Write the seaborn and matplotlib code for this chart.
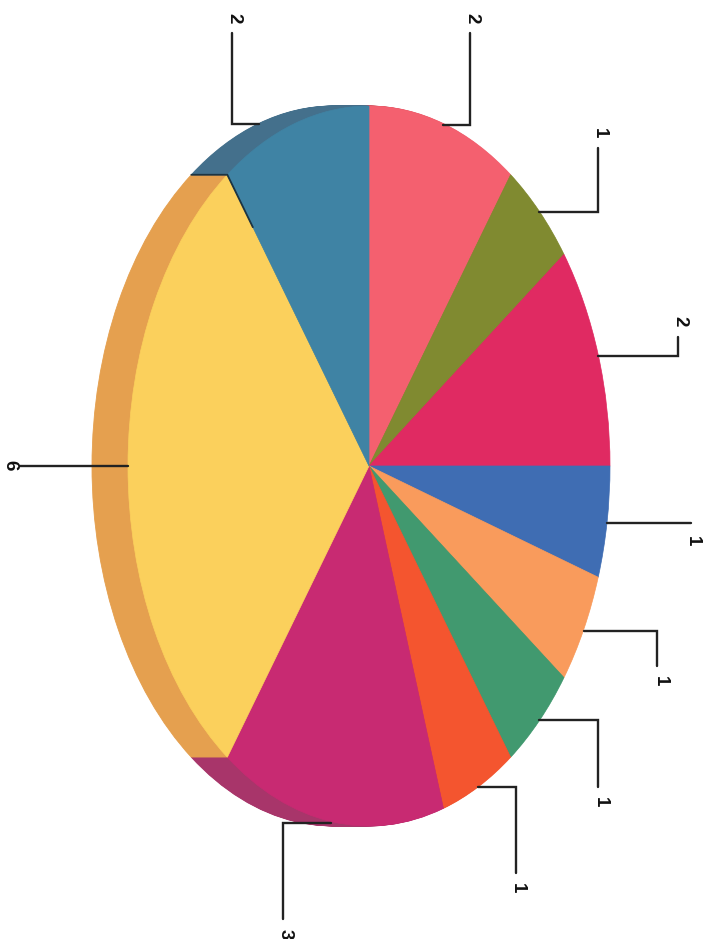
import numpy as np
import matplotlib
matplotlib.use("Agg")
import matplotlib.pyplot as plt
import seaborn as sns

# data, clockwise from 12 o'clock
values = [2, 1, 2, 1, 1, 1, 1, 3, 6, 2]
labels = ["2", "1", "2", "1", "1", "1", "1", "3", "6", "2"]
top_colors = ["#f4606f", "#808a30", "#e02a62", "#3f6db3", "#f99b5c",
              "#41996f", "#f4552f", "#c82a72", "#fbd05c", "#3f83a4"]
side_colors = ["#c24c58", "#666e26", "#b3224e", "#32578f", "#c77c49",
               "#347a59", "#c34426", "#a8356a", "#e5a04f", "#44708c"]

# layout, in pixels of the 703x939 canvas
W, H = 703, 939
CX, CY, RX, RY = 369, 466, 241, 360
DEPTH = 36
leader_y = [125, 212, 356, 523, 631, 720, 787, 823, 466, 124]
elbow_x = [470, 598, 678, None, 657, 598, 516, 283, None, 232]
end_pts = [(470, 33), (598, 148), (678, 337), (691, 523), (657, 666),
           (598, 787), (516, 873), (283, 919), (20, 466), (232, 33)]
label_pos = [(472, 18), (599, 133), (680, 321), (692, 541), (660, 681),
             (600, 802), (517, 888), (285, 934), (10, 465), (234, 18)]
on_side = [False] * 9 + [True]  # teal's leader meets the side's rim

sns.set_theme(style="white")
plt.rcParams["font.family"] = ["Liberation Sans", "DejaVu Sans"]

fig = plt.figure(figsize=(W / 100, H / 100), dpi=100, facecolor="white")
ax = fig.add_axes([0, 0, 1, 1])


def dx(px):
    return (px - CX) / RX


def dy(py):
    return (CY - py) / RY


# extruded side: stacked copies of the pie, deepest first
for d in range(DEPTH, 0, -1):
    ax.pie(values, colors=sns.color_palette(side_colors), startangle=90,
           counterclock=False, radius=1, center=(-d / RX, 0),
           wedgeprops=dict(linewidth=0.6))
    for w, c in zip(ax.patches[-len(values):], side_colors):
        w.set_edgecolor(c)

# top face
ax.pie(values, colors=sns.color_palette(top_colors), startangle=90,
       counterclock=False, radius=1, center=(0, 0),
       wedgeprops=dict(linewidth=0.5))
for w, c in zip(ax.patches[-len(values):], top_colors):
    w.set_edgecolor(c)

ax.set_aspect("auto")
ax.set_xlim(dx(0), dx(W))
ax.set_ylim(dy(H), dy(0))
ax.set_axis_off()

# seam between the teal and yellow sides
total = sum(values)
edges = np.cumsum([0] + values) / total * 2 * np.pi
seam = edges[9]
sx, sy = np.sin(seam), np.cos(seam)
ax.plot([sx - DEPTH / RX, sx, sx * 0.82], [sy, sy, sy * 0.82],
        color="#1d3442", lw=1.3, zorder=5, solid_capstyle="round")

# leader lines start at each slice's mid angle on the rim
for i, lab in enumerate(labels):
    mid = (edges[i] + edges[i + 1]) / 2
    x0 = np.sin(mid) - (DEPTH / RX if on_side[i] else 0)
    xs, ys = [x0], [dy(leader_y[i])]
    if elbow_x[i] is not None:
        xs.append(dx(elbow_x[i]))
        ys.append(dy(leader_y[i]))
    xs.append(dx(end_pts[i][0]))
    ys.append(dy(end_pts[i][1]))
    ax.plot(xs, ys, color="#222222", lw=1.7, zorder=6,
            solid_joinstyle="miter", clip_on=False)
    ax.text(dx(label_pos[i][0]), dy(label_pos[i][1]), lab, rotation=-90,
            ha="center", va="center", fontsize=13.5, fontweight="bold",
            family="Liberation Sans", color="#111111", zorder=7)

fig.savefig("out.png", dpi=100, facecolor="white")
